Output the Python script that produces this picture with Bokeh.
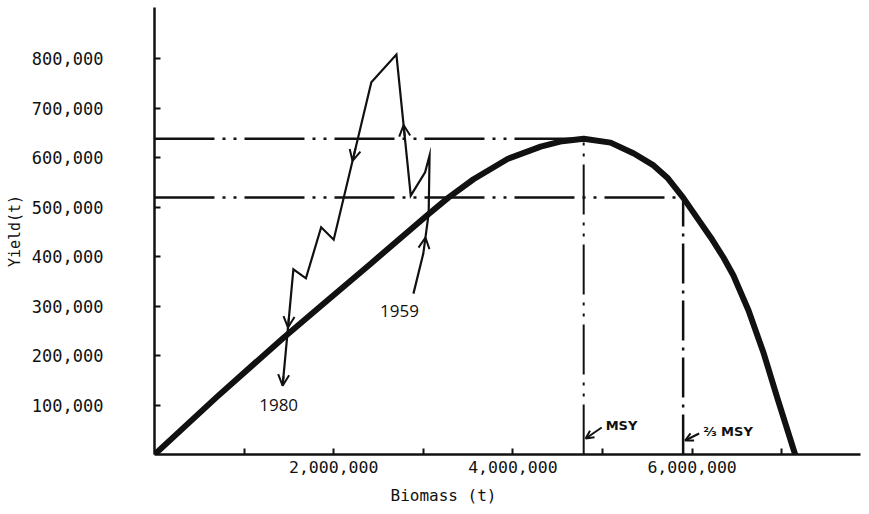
from bokeh.plotting import figure
from bokeh.models import Range1d, FixedTicker, Label, Arrow, OpenHead, Title
from bokeh.embed import file_html
from bokeh.resources import INLINE

# ---------------- data ----------------
curve_biomass = [0, 0.70e6, 1.44e6, 1.85e6, 2.41e6, 3.06e6, 3.28e6, 3.56e6, 3.94e6,
                 4.31e6, 4.55e6, 4.79e6, 5.09e6, 5.35e6, 5.57e6, 5.73e6, 5.90e6,
                 6.06e6, 6.21e6, 6.35e6, 6.46e6, 6.63e6, 6.80e6, 6.95e6, 7.15e6]
curve_yield = [0, 117e3, 236e3, 299e3, 385e3, 486e3, 519e3, 556e3, 597e3,
               622e3, 633e3, 638e3, 630e3, 608e3, 584e3, 558e3, 519e3,
               477e3, 438e3, 398e3, 362e3, 291e3, 204e3, 115e3, 0]

traj_biomass = [2.89e6, 3.00e6, 3.06e6, 3.07e6, 3.02e6, 2.86e6, 2.70e6, 2.42e6,
                2.00e6, 1.86e6, 1.69e6, 1.55e6, 1.43e6]
traj_yield = [325e3, 406e3, 487e3, 604e3, 570e3, 523e3, 808e3, 752e3,
              434e3, 459e3, 356e3, 374e3, 139e3]
traj_years = ["1959", "1980"]
arrow_segment = [1, 5, 7, 11, 11]
arrow_fraction = [0.4, 0.5, 0.5, 0.5, 1.0]

msy_yield = 638e3
msy_biomass = 4.79e6
lower_yield = 519e3
lower_biomass = 5.90e6
ref_labels = ["MSY", "\u2154 MSY"]

x_ticks = [1e6, 2e6, 3e6, 4e6, 5e6, 6e6, 7e6]
x_tick_labels = ["", "2,000,000", "", "4,000,000", "", "6,000,000", ""]
y_ticks = [100e3, 200e3, 300e3, 400e3, 500e3, 600e3, 700e3, 800e3]
y_tick_labels = ["100,000", "200,000", "300,000", "400,000", "500,000",
                 "600,000", "700,000", "800,000"]
x_title = "Biomass (t)"
y_title = "Yield(t)"

# ---------------- figure ----------------
W, H = 866, 514
ML, MR, MT, MB = 154, 6, 7, 60
FW, FH = W - ML - MR, H - MT - MB
X_MAX = FW / 89.6 * 1e6
Y_MAX = FH / 49.5 * 1e5
px_x = X_MAX / FW   # data units per pixel
px_y = Y_MAX / FH

INK = "#111111"
MONO = "DejaVu Sans Mono"

p = figure(width=W, height=H, x_range=Range1d(0, X_MAX), y_range=Range1d(0, Y_MAX),
           output_backend="svg", toolbar_location=None,
           min_border_left=ML, min_border_right=MR, min_border_top=MT, min_border_bottom=MB)
p.outline_line_color = None
p.xgrid.visible = False
p.ygrid.visible = False
p.background_fill_color = "white"
p.border_fill_color = "white"

for ax in (p.xaxis[0], p.yaxis[0]):
    ax.axis_line_width = 2.5
    ax.axis_line_color = INK
    ax.major_tick_line_width = 2
    ax.major_tick_line_color = INK
    ax.major_tick_in = 6
    ax.major_tick_out = 0
    ax.minor_tick_in = 0
    ax.minor_tick_out = 0
    ax.major_label_text_font = MONO
    ax.major_label_text_color = INK

p.xaxis.ticker = FixedTicker(ticks=x_ticks)
p.xaxis.major_label_overrides = {t: l for t, l in zip(x_ticks, x_tick_labels)}
p.xaxis.major_label_text_font_size = "16.5px"
p.xaxis.major_label_standoff = 6

p.yaxis.ticker = FixedTicker(ticks=y_ticks)
p.yaxis.major_label_overrides = {t: l for t, l in zip(y_ticks, y_tick_labels)}
p.yaxis.major_label_text_font_size = "17px"
p.yaxis.major_label_standoff = 51
p.yaxis.axis_label = y_title
p.yaxis.axis_label_text_font = MONO
p.yaxis.axis_label_text_font_size = "15px"
p.yaxis.axis_label_text_font_style = "normal"
p.yaxis.axis_label_text_color = INK
p.yaxis.axis_label_standoff = 5

# x axis title, below the axis, offset to the left of centre as in the original
p.add_layout(Title(text=x_title, align="left", offset=236, text_font=MONO,
                   text_font_size="16px", text_font_style="normal", text_color=INK,
                   standoff=16), "below")

# reference lines (MSY and lower level)
DASH = "60 8 3 8 3 8"
p.line([0, msy_biomass], [msy_yield, msy_yield], line_color=INK, line_width=2.5, line_dash=DASH)
p.line([0, lower_biomass], [lower_yield, lower_yield], line_color=INK, line_width=2.5, line_dash=DASH)
p.line([msy_biomass, msy_biomass], [0, msy_yield], line_color=INK, line_width=2, line_dash="50 8 3 8 3 8")
p.line([lower_biomass, lower_biomass], [0, lower_yield], line_color=INK, line_width=2.5, line_dash="40 7 3 7")

# production curve
p.line(curve_biomass, curve_yield, line_color=INK, line_width=6, line_join="round", line_cap="round")

# trajectory
p.line(traj_biomass, traj_yield, line_color=INK, line_width=2.2, line_join="miter")
for seg, f in zip(arrow_segment, arrow_fraction):
    x0, y0 = traj_biomass[seg], traj_yield[seg]
    x1, y1 = traj_biomass[seg + 1], traj_yield[seg + 1]
    xe, ye = x0 + f * (x1 - x0), y0 + f * (y1 - y0)
    xs, ys = x0 + (f - 0.08) * (x1 - x0), y0 + (f - 0.08) * (y1 - y0)
    p.add_layout(Arrow(end=OpenHead(size=11, line_width=2, line_color=INK),
                       x_start=xs, y_start=ys, x_end=xe, y_end=ye,
                       line_width=2, line_color=INK))

p.add_layout(Label(x=traj_biomass[0] - 14 * px_x, y=traj_yield[0] - 11 * px_y, text=traj_years[0],
                   text_font="Open Sans", text_font_size="17px", text_align="center",
                   text_baseline="top", text_color=INK))
p.add_layout(Label(x=traj_biomass[-1] - 4 * px_x, y=traj_yield[-1] - 13 * px_y, text=traj_years[1],
                   text_font="Open Sans", text_font_size="17px", text_align="center",
                   text_baseline="top", text_color=INK))

# MSY annotations (hand-drawn arrows near the axis)
for xb, lab, tip_y, dx, dy in [(msy_biomass, ref_labels[0], 16, 18, 11),
                               (lower_biomass, ref_labels[1], 14, 16, 7)]:
    p.add_layout(Arrow(end=OpenHead(size=8, line_width=2, line_color=INK),
                       x_start=xb + dx * px_x, y_start=(tip_y + dy) * px_y,
                       x_end=xb + 2 * px_x, y_end=tip_y * px_y,
                       line_width=2, line_color=INK))
    p.add_layout(Label(x=xb + (dx + 4) * px_x, y=(tip_y + dy + 2) * px_y, text=lab,
                       text_font="DejaVu Sans", text_font_size="13px",
                       text_font_style="bold", text_align="left", text_baseline="middle",
                       text_color=INK))

open("out.html", "w").write(file_html(p, INLINE))
